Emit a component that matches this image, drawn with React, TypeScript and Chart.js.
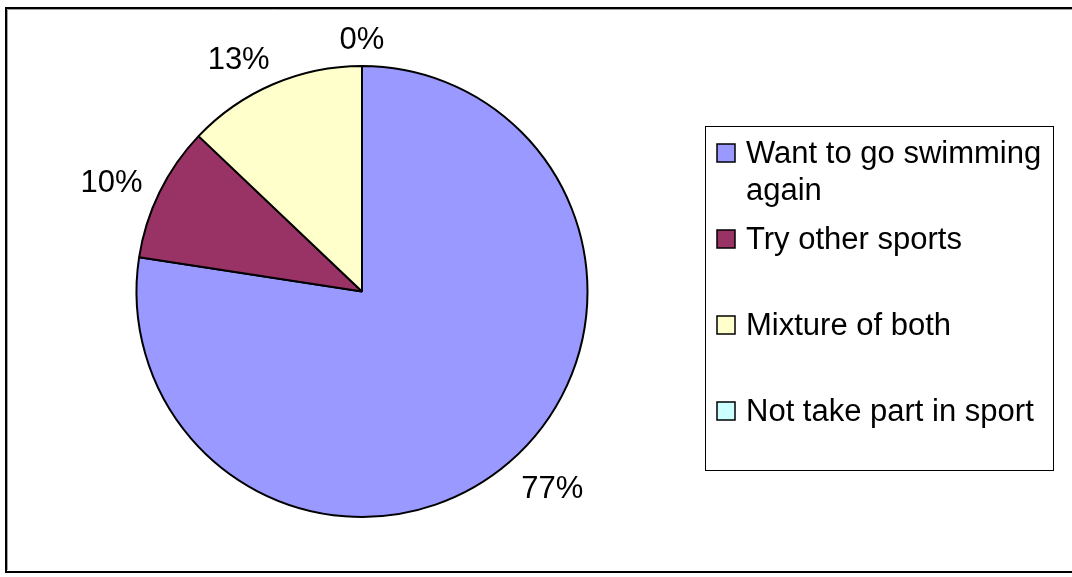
import React, { useEffect, useRef } from "react";
import { Chart, registerables } from "chart.js";

Chart.register(...registerables);

const categories = [
  "Want to go swimming again",
  "Try other sports",
  "Mixture of both",
  "Not take part in sport",
];
const responses = [24, 3, 4, 0];
const sliceColors = ["#9999FF", "#993366", "#FFFFCC", "#CCFFFF"];

const FONT_FAMILY = '"Liberation Sans", Arial, Helvetica, sans-serif';
const FONT_SIZE = 31;

function wrapText(ctx: CanvasRenderingContext2D, text: string, maxWidth: number): string[] {
  const words = text.split(" ");
  const lines: string[] = [];
  let cur = "";
  for (const w of words) {
    const test = cur ? cur + " " + w : w;
    if (ctx.measureText(test).width > maxWidth && cur) {
      lines.push(cur);
      cur = w;
    } else {
      cur = test;
    }
  }
  if (cur) lines.push(cur);
  return lines;
}

const framePlugin = {
  id: "frame",
  beforeDraw(chart: any) {
    const ctx = chart.ctx as CanvasRenderingContext2D;
    ctx.save();
    ctx.fillStyle = "#FFFFFF";
    ctx.fillRect(0, 0, chart.width, chart.height);
    ctx.strokeStyle = "#000000";
    ctx.lineWidth = 2;
    ctx.strokeRect(6, 8, chart.width + 10, 564);
    ctx.strokeStyle = "#A0A0A0";
    ctx.lineWidth = 1;
    ctx.beginPath();
    ctx.moveTo(7.5, 9.5);
    ctx.lineTo(chart.width, 9.5);
    ctx.moveTo(7.5, 9.5);
    ctx.lineTo(7.5, 570);
    ctx.stroke();
    ctx.restore();
  },
};

const pieLabelPlugin = {
  id: "pieLabels",
  afterDatasetsDraw(chart: any) {
    const ctx = chart.ctx as CanvasRenderingContext2D;
    const meta = chart.getDatasetMeta(0);
    const data = chart.data.datasets[0].data as number[];
    const total = data.reduce((a, b) => a + b, 0);
    ctx.save();
    ctx.font = `${FONT_SIZE}px ${FONT_FAMILY}`;
    ctx.fillStyle = "#000000";
    ctx.textAlign = "center";
    ctx.textBaseline = "middle";
    meta.data.forEach((arc: any, i: number) => {
      const { x, y, startAngle, endAngle, outerRadius } = arc.getProps(
        ["x", "y", "startAngle", "endAngle", "outerRadius"],
        true
      );
      const mid = (startAngle + endAngle) / 2;
      const dx = Math.cos(mid);
      const dy = Math.sin(mid);
      const text = Math.round((data[i] / total) * 100) + "%";
      const w = ctx.measureText(text).width;
      const h = 22;
      const R = outerRadius + 19;
      const clamp = (v: number) => Math.max(-1, Math.min(1, v));
      const cx = x + dx * R + (w / 2) * clamp(dx * 2.2);
      const cy = y + dy * R + (h / 2) * dy + 4;
      ctx.fillText(text, cx, cy);
    });
    ctx.restore();
  },
};

const legendPlugin = {
  id: "boxLegend",
  afterDraw(chart: any) {
    const ctx = chart.ctx as CanvasRenderingContext2D;
    const labels = chart.data.labels as string[];
    const colors = chart.data.datasets[0].backgroundColor as string[];
    const left = 705.5;
    const top = 126.5;
    const right = 1053.5;
    const bottom = 470.5;
    ctx.save();
    ctx.strokeStyle = "#000000";
    ctx.lineWidth = 1;
    ctx.strokeRect(left, top, right - left, bottom - top);

    ctx.font = `${FONT_SIZE}px ${FONT_FAMILY}`;
    ctx.textAlign = "left";
    ctx.textBaseline = "alphabetic";
    const textX = 746;
    const firstBaseline = 163;
    const itemStep = 86;
    const lineHeight = 37;
    labels.forEach((label, i) => {
      const base = firstBaseline + i * itemStep;
      ctx.fillStyle = colors[i];
      ctx.fillRect(717, base - 19, 18, 18);
      ctx.strokeStyle = "#000000";
      ctx.lineWidth = 1.5;
      ctx.strokeRect(717, base - 19, 18, 18);
      ctx.fillStyle = "#000000";
      const lines = wrapText(ctx, label, right - textX - 2);
      lines.forEach((ln, j) => ctx.fillText(ln, textX, base + j * lineHeight));
    });
    ctx.restore();
  },
};

export default function App() {
  const canvasRef = useRef<HTMLCanvasElement | null>(null);

  useEffect(() => {
    if (!canvasRef.current) return;
    const chart = new Chart(canvasRef.current, {
      type: "pie",
      data: {
        labels: categories,
        datasets: [
          {
            data: responses,
            backgroundColor: sliceColors,
            borderColor: "#000000",
            borderWidth: 2,
          },
        ],
      },
      options: {
        responsive: false,
        animation: false,
        layout: {
          padding: { left: 135.5, right: 483.5, top: 65, bottom: 59 },
        },
        plugins: {
          legend: { display: false },
          tooltip: { enabled: false },
        },
      },
      plugins: [framePlugin, pieLabelPlugin, legendPlugin],
    });
    return () => chart.destroy();
  }, []);

  return (
    <div style={{ position: "absolute", left: 0, top: 0, width: 1072, height: 577 }}>
      <canvas ref={canvasRef} width={1072} height={577} style={{ display: "block" }} />
    </div>
  );
}
